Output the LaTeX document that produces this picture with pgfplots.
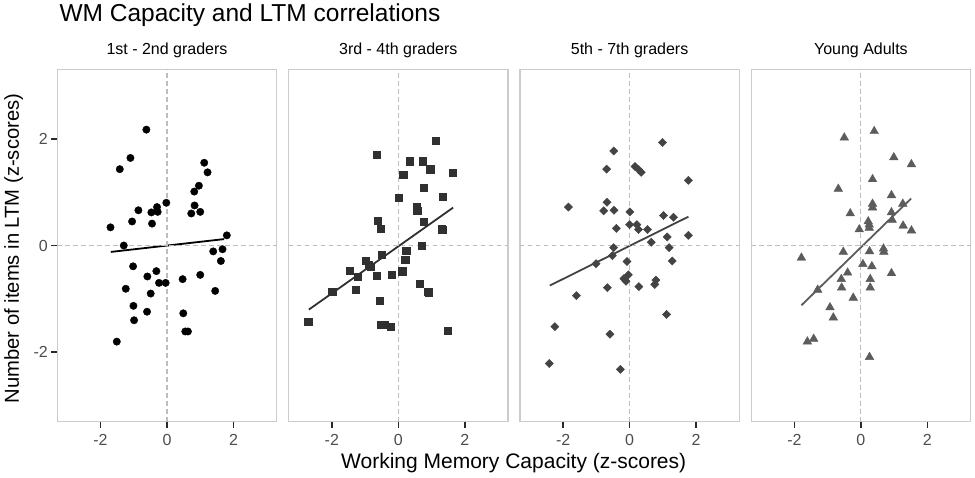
\documentclass[border=0pt]{standalone}
\usepackage{fontspec}
\setmainfont{Liberation Sans}
\usepackage{pgfplots}
\pgfplotsset{compat=1.18}

\definecolor{pborder}{HTML}{CCCCCC}
\definecolor{refline}{HTML}{BDBDBD}
\definecolor{ticklab}{HTML}{4D4D4D}
\definecolor{tickc}{HTML}{2A2A2A}
\definecolor{cA}{HTML}{000000}
\definecolor{cB}{HTML}{303030}
\definecolor{cC}{HTML}{434343}
\definecolor{cD}{HTML}{5C5C5C}

\pgfplotsset{
  panel/.style={
    scale only axis, width=219.4pt, height=352.4pt,
    anchor=south west, clip=false,
    xmin=-3.3, xmax=3.3, ymin=-3.3, ymax=3.3,
    axis line style={draw=pborder, line width=1.3pt},
    xtick={-2,0,2}, xticklabels={-2,0,2},
    ytick=\empty,
    xtick pos=left, ytick pos=left,
    tick align=outside,
    major tick length=6pt,
    major tick style={draw=tickc, line width=1.6pt},
    ticklabel style={font=\fontsize{16}{16}\selectfont, text=ticklab},
    xticklabel style={anchor=base, yshift=-18pt},
    title style={font=\fontsize{16}{16}\selectfont, anchor=base, at={(0.5,1)}, yshift=8.6pt},
  },
  refl/.style={draw=refline, line width=1.1pt, dash pattern=on 4.5pt off 3.5pt, forget plot},
  xtk/.style={draw=tickc, line width=1.6pt, forget plot},
}
% short x tick marks below each panel (0.112 units = 6pt)
\newcommand{\xticks}{%
  \addplot[xtk] coordinates {(-2,-3.3) (-2,-3.412)};
  \addplot[xtk] coordinates {(0,-3.3) (0,-3.412)};
  \addplot[xtk] coordinates {(2,-3.3) (2,-3.412)};
}

\begin{document}
\begin{tikzpicture}

\node[anchor=base west, font=\fontsize{24.5}{24.5}\selectfont] at (56pt,-21.7pt) {WM Capacity and LTM correlations};
\node[anchor=base, font=\fontsize{21}{21}\selectfont] at (513.7pt,-468pt) {Working Memory Capacity (z-scores)};
\node[anchor=base, rotate=90, font=\fontsize{20.2}{20.2}\selectfont] at (19pt,-248.5pt) {Number of items in LTM (z-scores)};

% 1st - 2nd graders
\begin{axis}[panel, at={(57.3pt,-421.7pt)}, title={1st - 2nd graders},
  ytick={-2,0,2}, yticklabels={-2,0,2}]
\addplot[only marks, mark=*, mark size=3.7pt, mark options={draw=cA, fill=cA}] coordinates {
(-0.62,2.17) (-1.10,1.64) (-1.42,1.43) (1.12,1.55) (1.22,1.37)
(0.96,1.12) (0.82,1.01) (-0.02,0.80) (-0.30,0.72) (-0.28,0.63)
(-0.47,0.62) (-0.86,0.66) (0.83,0.75) (0.73,0.60) (1.00,0.63)
(-1.05,0.45) (-0.45,0.41) (-1.70,0.34) (-1.30,0.00) (1.80,0.19)
(1.39,-0.11) (1.67,-0.07) (1.62,-0.29) (-1.02,-0.39) (-0.32,-0.48)
(-0.59,-0.58) (-0.24,-0.70) (-0.04,-0.70) (0.47,-0.63) (1.00,-0.55)
(-1.24,-0.81) (-0.49,-0.90) (1.45,-0.85) (-1.01,-1.13) (-0.60,-1.24)
(-0.99,-1.40) (0.49,-1.27) (0.55,-1.61) (0.63,-1.61) (-1.51,-1.80)
};
\addplot[cA, line width=1.8pt] coordinates {(-1.69,-0.12) (1.72,0.12)};
\addplot[refl] coordinates {(-3.3,0) (3.3,0)};
\addplot[refl] coordinates {(0,-3.3) (0,3.3)};
\xticks
\end{axis}

% 3rd - 4th graders
\begin{axis}[panel, at={(288.6pt,-421.7pt)}, title={3rd - 4th graders}]
\addplot[only marks, mark=square*, mark size=3.6pt, mark options={draw=cB, fill=cB}] coordinates {
(1.12,1.96) (-0.66,1.70) (0.35,1.58) (0.73,1.58) (0.96,1.43)
(1.63,1.37) (0.15,1.32) (0.77,1.08) (0.01,0.89) (1.34,0.91)
(0.56,0.72) (0.57,0.65) (0.77,0.44) (-0.62,0.46) (-0.53,0.32)
(1.31,0.32) (1.32,0.29) (0.70,0.00) (0.24,-0.10) (-0.51,-0.17)
(0.21,-0.27) (-0.98,-0.29) (-0.90,-0.37) (-0.84,-0.40) (-1.47,-0.47)
(-1.22,-0.58) (-0.66,-0.57) (-0.20,-0.54) (0.12,-0.48) (-1.99,-0.86)
(-1.29,-0.83) (0.64,-0.71) (0.90,-0.87) (0.92,-0.89) (-0.56,-1.03)
(-2.71,-1.43) (-0.53,-1.48) (-0.41,-1.49) (-0.23,-1.52) (1.49,-1.60)
};
\addplot[cB, line width=1.8pt] coordinates {(-2.69,-1.20) (1.65,0.71)};
\addplot[refl] coordinates {(-3.3,0) (3.3,0)};
\addplot[refl] coordinates {(0,-3.3) (0,3.3)};
\xticks
\end{axis}

% 5th - 7th graders
\begin{axis}[panel, at={(519.9pt,-421.7pt)}, title={5th - 7th graders}]
\addplot[only marks, mark=square*, mark size=2.9pt, mark options={rotate=45, draw=cC, fill=cC}] coordinates {
(0.99,1.93) (-0.48,1.77) (-0.69,1.43) (0.16,1.48) (0.27,1.42)
(0.35,1.37) (1.77,1.22) (-1.84,0.72) (-0.68,0.81) (-0.78,0.65)
(-0.47,0.66) (0.01,0.63) (1.02,0.56) (1.32,0.53) (0.00,0.39)
(0.22,0.39) (0.27,0.30) (0.54,0.30) (-0.40,0.32) (1.13,0.16)
(1.77,0.19) (0.65,0.06) (-0.48,-0.04) (1.19,-0.04) (-0.52,-0.19)
(1.28,-0.29) (-0.08,-0.30) (-1.01,-0.34) (-0.04,-0.55) (-0.17,-0.62)
(-0.11,-0.67) (0.79,-0.65) (0.76,-0.73) (-0.67,-0.79) (0.28,-0.77)
(-1.60,-0.94) (1.11,-1.29) (-2.25,-1.52) (-0.59,-1.66) (-2.42,-2.21)
(-0.28,-2.32)
};
\addplot[cC, line width=1.8pt] coordinates {(-2.40,-0.75) (1.77,0.54)};
\addplot[refl] coordinates {(-3.3,0) (3.3,0)};
\addplot[refl] coordinates {(0,-3.3) (0,3.3)};
\xticks
\end{axis}

% Young Adults
\begin{axis}[panel, at={(751.2pt,-421.7pt)}, title={Young Adults}]
\addplot[only marks, mark=triangle*, mark size=5pt, mark options={draw=cD, fill=cD}] coordinates {
(0.40,2.14) (-0.50,2.02) (0.99,1.65) (1.52,1.52) (0.35,1.24)
(-0.68,1.06) (0.92,0.94) (0.35,0.78) (0.35,0.71) (1.26,0.78)
(-0.32,0.60) (0.92,0.62) (0.94,0.48) (0.22,0.45) (0.25,0.39)
(-0.05,0.30) (0.25,0.33) (1.27,0.37) (1.52,0.28) (0.68,-0.06)
(0.69,-0.12) (-0.53,-0.12) (0.26,-0.11) (-1.79,-0.23) (0.06,-0.35)
(0.33,-0.39) (-0.40,-0.51) (0.92,-0.52) (-0.59,-0.63) (-0.58,-0.79)
(0.28,-0.63) (0.28,-0.79) (-1.30,-0.83) (-0.23,-0.98) (-0.93,-1.16)
(-0.83,-1.35) (-1.42,-1.75) (-1.61,-1.80) (0.26,-2.09)
};
\addplot[cD, line width=1.8pt] coordinates {(-1.79,-1.12) (1.51,0.88)};
\addplot[refl] coordinates {(-3.3,0) (3.3,0)};
\addplot[refl] coordinates {(0,-3.3) (0,3.3)};
\xticks
\end{axis}

\path (0,0) rectangle (975pt,-477pt);
\end{tikzpicture}
\end{document}
